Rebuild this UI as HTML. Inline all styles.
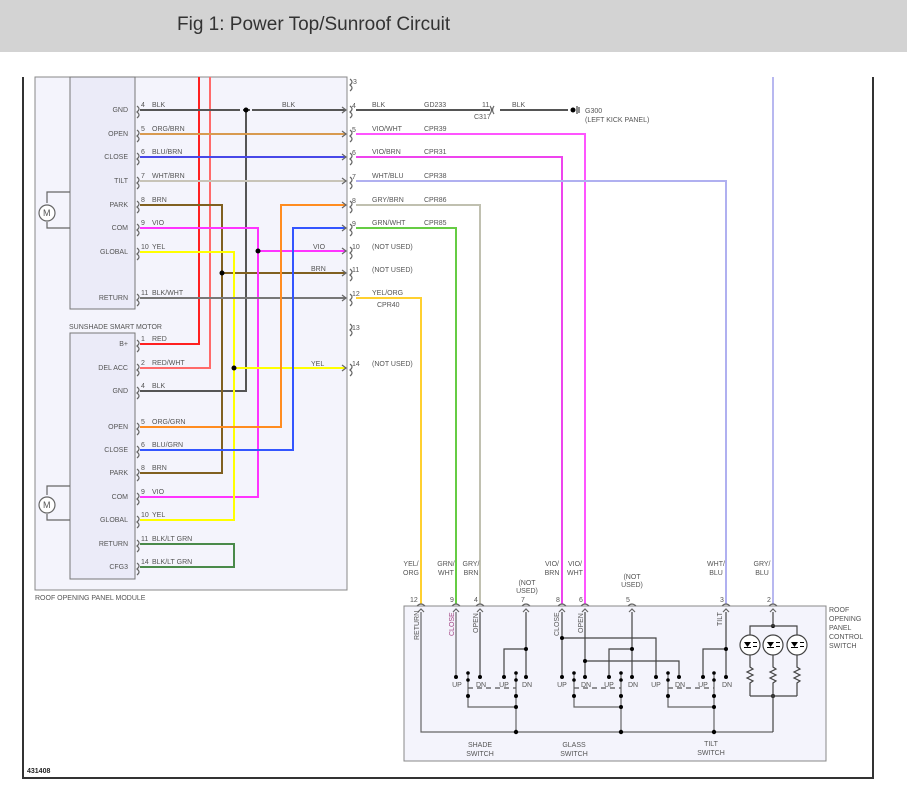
<!DOCTYPE html>
<html><head><meta charset="utf-8"><style>
html,body{margin:0;padding:0;background:#fff;}
svg{display:block;}
text{font-family:"Liberation Sans",sans-serif;font-size:7px;fill:#555;}
.w{fill:none;stroke-width:2;}
.g{fill:none;stroke:#666;stroke-width:1.2;}
.k{fill:none;stroke:#444;stroke-width:1.2;}
</style></head><body>
<svg width="907" height="803" viewBox="0 0 907 803" xmlns="http://www.w3.org/2000/svg">
<rect x="0" y="0" width="907" height="52" fill="#d3d3d3"/>
<text x="177" y="30" style="font-size:19px;fill:#333">Fig 1: Power Top/Sunroof Circuit</text>

<!-- frame -->
<path d="M23,77 V778 H873 V77" fill="none" stroke="#333" stroke-width="2"/>
<text x="27" y="773" style="fill:#222;font-weight:bold">431408</text>

<!-- module -->
<rect x="35" y="77" width="312" height="513" fill="#f4f4fc" stroke="#888" stroke-width="1"/>
<rect x="70" y="77" width="65" height="232" fill="#ebebf8" stroke="#777" stroke-width="1"/>
<rect x="70" y="333" width="65" height="246" fill="#ebebf8" stroke="#777" stroke-width="1"/>
<text x="69" y="329">SUNSHADE SMART MOTOR</text>
<text x="35" y="600">ROOF OPENING PANEL MODULE</text>
<!-- motors -->
<g class="g"><path d="M70,192 H47 V203 M47,222 V228 H70"/><circle cx="47" cy="213" r="8" fill="#fff"/>
<path d="M70,486 H47 V495 M47,514 V520 H70"/><circle cx="47" cy="505" r="8" fill="#fff"/></g>
<text x="43" y="216" style="font-size:9px">M</text><text x="43" y="508" style="font-size:9px">M</text>

<g text-anchor="end">
<text x="128" y="112">GND</text><text x="128" y="136">OPEN</text><text x="128" y="159">CLOSE</text>
<text x="128" y="183">TILT</text><text x="128" y="207">PARK</text><text x="128" y="230">COM</text>
<text x="128" y="254">GLOBAL</text><text x="128" y="300">RETURN</text>
<text x="128" y="346">B+</text><text x="128" y="370">DEL ACC</text><text x="128" y="393">GND</text>
<text x="128" y="429">OPEN</text><text x="128" y="452">CLOSE</text><text x="128" y="475">PARK</text>
<text x="128" y="499">COM</text><text x="128" y="522">GLOBAL</text><text x="128" y="546">RETURN</text><text x="128" y="569">CFG3</text>
</g>

<!-- left wires top -->
<path class="w" stroke="#ff2020" d="M199,77 V344 H140"/>
<path class="w" stroke="#ff6a6a" d="M210,77 V368 H140"/>
<path class="w" stroke="#555" d="M140,110 H346 M246,110 V391 H140"/>
<path class="w" stroke="#d89a50" d="M140,134 H346"/>
<path class="w" stroke="#4848e8" d="M140,157 H346"/>
<path class="w" stroke="#c8c4b8" d="M140,181 H346"/>
<path class="w" stroke="#806020" d="M140,205 H222 V473 H140 M222,273 H346"/>
<path class="w" stroke="#ff33ff" d="M140,228 H258 V497 H140 M258,251 H346"/>
<path class="w" stroke="#ffff00" d="M140,252 H234 V520 H140 M234,368 H346"/>
<path class="w" stroke="#777" d="M140,298 H346"/>
<path class="w" stroke="#ff8c20" d="M140,427 H281 V205 H346"/>
<path class="w" stroke="#3355ff" d="M140,450 H293 V228 H346"/>
<path class="w" stroke="#4a8a4a" d="M140,544 H234 V567 H140"/>
<g fill="#000"><circle cx="246" cy="110" r="2.5"/><circle cx="258" cy="251" r="2.5"/><circle cx="222" cy="273" r="2.5"/><circle cx="234" cy="368" r="2.5"/></g>
<g fill="#f4f4fc"><rect x="240" y="107" width="3" height="6"/><rect x="250" y="107" width="3" height="6"/></g>
<path class="w" stroke="#555" d="M232,110 H240 M252,110 H262"/>

<!-- left pin labels -->
<text x="141" y="107">4</text><text x="152" y="107">BLK</text>
<text x="141" y="131">5</text><text x="152" y="131">ORG/BRN</text>
<text x="141" y="154">6</text><text x="152" y="154">BLU/BRN</text>
<text x="141" y="178">7</text><text x="152" y="178">WHT/BRN</text>
<text x="141" y="202">8</text><text x="152" y="202">BRN</text>
<text x="141" y="225">9</text><text x="152" y="225">VIO</text>
<text x="141" y="249">10</text><text x="152" y="249">YEL</text>
<text x="141" y="295">11</text><text x="152" y="295">BLK/WHT</text>
<text x="141" y="341">1</text><text x="152" y="341">RED</text>
<text x="141" y="365">2</text><text x="152" y="365">RED/WHT</text>
<text x="141" y="388">4</text><text x="152" y="388">BLK</text>
<text x="141" y="424">5</text><text x="152" y="424">ORG/GRN</text>
<text x="141" y="447">6</text><text x="152" y="447">BLU/GRN</text>
<text x="141" y="470">8</text><text x="152" y="470">BRN</text>
<text x="141" y="494">9</text><text x="152" y="494">VIO</text>
<text x="141" y="517">10</text><text x="152" y="517">YEL</text>
<text x="141" y="541">11</text><text x="152" y="541">BLK/LT GRN</text>
<text x="141" y="564">14</text><text x="152" y="564">BLK/LT GRN</text>
<text x="282" y="107">BLK</text><text x="313" y="249">VIO</text><text x="311" y="271">BRN</text><text x="311" y="366">YEL</text>

<!-- left connector marks -->
<g class="g">
<path d="M137,106 q4,3 0,6 q4,3 0,6"/><path d="M137,130 q4,3 0,6 q4,3 0,6"/><path d="M137,153 q4,3 0,6 q4,3 0,6"/><path d="M137,177 q4,3 0,6 q4,3 0,6"/><path d="M137,201 q4,3 0,6 q4,3 0,6"/><path d="M137,224 q4,3 0,6 q4,3 0,6"/><path d="M137,248 q4,3 0,6 q4,3 0,6"/><path d="M137,294 q4,3 0,6 q4,3 0,6"/>
<path d="M137,340 q4,3 0,6 q4,3 0,6"/><path d="M137,364 q4,3 0,6 q4,3 0,6"/><path d="M137,387 q4,3 0,6 q4,3 0,6"/><path d="M137,423 q4,3 0,6 q4,3 0,6"/><path d="M137,446 q4,3 0,6 q4,3 0,6"/><path d="M137,469 q4,3 0,6 q4,3 0,6"/><path d="M137,493 q4,3 0,6 q4,3 0,6"/><path d="M137,516 q4,3 0,6 q4,3 0,6"/><path d="M137,540 q4,3 0,6 q4,3 0,6"/><path d="M137,563 q4,3 0,6 q4,3 0,6"/>
</g>

<!-- right connector marks & arrows -->
<g class="g">
<path d="M350,79 q4,3 0,6 q4,3 0,6"/><path d="M350,106 q4,3 0,6 q4,3 0,6"/><path d="M350,130 q4,3 0,6 q4,3 0,6"/><path d="M350,153 q4,3 0,6 q4,3 0,6"/><path d="M350,177 q4,3 0,6 q4,3 0,6"/><path d="M350,201 q4,3 0,6 q4,3 0,6"/><path d="M350,224 q4,3 0,6 q4,3 0,6"/><path d="M350,247 q4,3 0,6 q4,3 0,6"/><path d="M350,269 q4,3 0,6 q4,3 0,6"/><path d="M350,294 q4,3 0,6 q4,3 0,6"/><path d="M350,324 q4,3 0,6 q4,3 0,6"/><path d="M350,364 q4,3 0,6 q4,3 0,6"/>
<path d="M342,107 l4,3 l-4,3 M342,131 l4,3 l-4,3 M342,154 l4,3 l-4,3 M342,178 l4,3 l-4,3 M342,202 l4,3 l-4,3 M342,225 l4,3 l-4,3 M342,248 l4,3 l-4,3 M342,270 l4,3 l-4,3 M342,295 l4,3 l-4,3 M342,365 l4,3 l-4,3"/>
</g>
<text x="353" y="84">3</text>
<text x="352" y="108">4</text><text x="372" y="107">BLK</text><text x="424" y="107">GD233</text>
<text x="352" y="132">5</text><text x="372" y="131">VIO/WHT</text><text x="424" y="131">CPR39</text>
<text x="352" y="155">6</text><text x="372" y="154">VIO/BRN</text><text x="424" y="154">CPR31</text>
<text x="352" y="179">7</text><text x="372" y="178">WHT/BLU</text><text x="424" y="178">CPR38</text>
<text x="352" y="203">8</text><text x="372" y="202">GRY/BRN</text><text x="424" y="202">CPR86</text>
<text x="352" y="226">9</text><text x="372" y="225">GRN/WHT</text><text x="424" y="225">CPR85</text>
<text x="352" y="249">10</text><text x="372" y="249">(NOT USED)</text>
<text x="352" y="272">11</text><text x="372" y="272">(NOT USED)</text>
<text x="352" y="296">12</text><text x="372" y="295">YEL/ORG</text><text x="377" y="307">CPR40</text>
<text x="352" y="330">13</text>
<text x="352" y="366">14</text><text x="372" y="366">(NOT USED)</text>

<!-- right wires -->
<path class="w" stroke="#555" d="M356,110 H490 M500,110 H568"/>
<path class="g" d="M490,106 q3,4 0,8 M494,106 q-3,4 0,8"/>
<circle cx="573" cy="110" r="2.5" fill="#000"/><path class="k" d="M577,106 V114 M579,107 V113"/>
<text x="482" y="107">11</text><text x="512" y="107">BLK</text><text x="474" y="119">C317</text>
<text x="585" y="113">G300</text><text x="585" y="122">(LEFT KICK PANEL)</text>
<path class="w" stroke="#ff55ff" d="M356,134 H585 V604"/>
<path class="w" stroke="#ee44ee" d="M356,157 H562 V604"/>
<path class="w" stroke="#b0b0f0" d="M356,181 H726 V604"/>
<path class="w" stroke="#c0c0b0" d="M356,205 H480 V604"/>
<path class="w" stroke="#66cc44" d="M356,228 H456 V604"/>
<path class="w" stroke="#ffd030" d="M356,298 H421 V604"/>
<path class="w" stroke="#b8b8f0" d="M773,77 V604"/>

<!-- wire labels above switch -->
<g text-anchor="middle">
<text x="411" y="566">YEL/</text><text x="411" y="575">ORG</text>
<text x="446" y="566">GRN/</text><text x="446" y="575">WHT</text>
<text x="471" y="566">GRY/</text><text x="471" y="575">BRN</text>
<text x="527" y="585">(NOT</text><text x="527" y="593">USED)</text>
<text x="552" y="566">VIO/</text><text x="552" y="575">BRN</text>
<text x="575" y="566">VIO/</text><text x="575" y="575">WHT</text>
<text x="632" y="579">(NOT</text><text x="632" y="587">USED)</text>
<text x="716" y="566">WHT/</text><text x="716" y="575">BLU</text>
<text x="762" y="566">GRY/</text><text x="762" y="575">BLU</text>
</g>
<text x="410" y="602">12</text><text x="450" y="602">9</text><text x="474" y="602">4</text><text x="521" y="602">7</text><text x="556" y="602">8</text><text x="579" y="602">6</text><text x="626" y="602">5</text><text x="720" y="602">3</text><text x="767" y="602">2</text>

<!-- switch box -->
<rect x="404" y="606" width="422" height="155" fill="#f4f4fc" stroke="#888" stroke-width="1"/>
<g class="g">
<path d="M417,606 q4,-4 8,0 M452,606 q4,-4 8,0 M476,606 q4,-4 8,0 M522,606 q4,-4 8,0 M558,606 q4,-4 8,0 M581,606 q4,-4 8,0 M628,606 q4,-4 8,0 M722,606 q4,-4 8,0 M769,606 q4,-4 8,0"/>
<path d="M418,612 l3,-3 l3,3 M453,612 l3,-3 l3,3 M477,612 l3,-3 l3,3 M523,612 l3,-3 l3,3 M559,612 l3,-3 l3,3 M582,612 l3,-3 l3,3 M629,612 l3,-3 l3,3 M723,612 l3,-3 l3,3 M770,612 l3,-3 l3,3"/>
</g>
<text x="829" y="612">ROOF</text><text x="829" y="621">OPENING</text><text x="829" y="630">PANEL</text><text x="829" y="639">CONTROL</text><text x="829" y="648">SWITCH</text>

<!-- rotated labels -->
<g>
<text transform="translate(419,640) rotate(-90)">RETURN</text>
<text transform="translate(454,636) rotate(-90)" style="fill:#a04080">CLOSE</text>
<text transform="translate(478,633) rotate(-90)">OPEN</text>
<text transform="translate(559,636) rotate(-90)">CLOSE</text>
<text transform="translate(583,633) rotate(-90)">OPEN</text>
<text transform="translate(722,626) rotate(-90)">TILT</text>
</g>

<!-- switch internals -->
<g class="g" stroke="#888">
<path d="M421,612 V732 H773"/>
<path d="M456,612 V677"/>
</g>
<g class="k">
<path d="M480,612 V677 M526,612 V677 M526,649 H504 V677"/>
<path d="M562,612 V677 M562,638 H656 V677 M585,612 V677 M585,661 H679 V677 M632,612 V677 M632,649 H609 V677"/>
<path d="M726,612 V677 M726,649 H703 V677"/>
</g>
<g class="g" stroke="#777">
<path d="M468,672 V707 H516 V672 M516,707 V732"/>
<path d="M574,672 V707 H621 V672 M621,707 V732"/>
<path d="M668,672 V707 H714 V672 M714,707 V732"/>
</g>
<path d="M468,688 H516 M574,688 H621 M668,688 H714" stroke="#555" stroke-width="1.2" stroke-dasharray="5,4" fill="none"/>
<g fill="#000">
<circle cx="456" cy="677" r="2"/><circle cx="480" cy="677" r="2"/><circle cx="504" cy="677" r="2"/><circle cx="526" cy="677" r="2"/><circle cx="526" cy="649" r="2"/>
<circle cx="562" cy="677" r="2"/><circle cx="585" cy="677" r="2"/><circle cx="609" cy="677" r="2"/><circle cx="632" cy="677" r="2"/><circle cx="656" cy="677" r="2"/><circle cx="679" cy="677" r="2"/>
<circle cx="562" cy="638" r="2"/><circle cx="585" cy="661" r="2"/><circle cx="632" cy="649" r="2"/>
<circle cx="703" cy="677" r="2"/><circle cx="726" cy="677" r="2"/><circle cx="726" cy="649" r="2"/>
<circle cx="468" cy="673" r="1.8"/><circle cx="468" cy="680" r="1.8"/><circle cx="516" cy="673" r="1.8"/><circle cx="516" cy="680" r="1.8"/>
<circle cx="574" cy="673" r="1.8"/><circle cx="574" cy="680" r="1.8"/><circle cx="621" cy="673" r="1.8"/><circle cx="621" cy="680" r="1.8"/>
<circle cx="668" cy="673" r="1.8"/><circle cx="668" cy="680" r="1.8"/><circle cx="714" cy="673" r="1.8"/><circle cx="714" cy="680" r="1.8"/>
<circle cx="468" cy="696" r="2"/><circle cx="516" cy="696" r="2"/><circle cx="516" cy="707" r="2"/>
<circle cx="574" cy="696" r="2"/><circle cx="621" cy="696" r="2"/><circle cx="621" cy="707" r="2"/>
<circle cx="668" cy="696" r="2"/><circle cx="714" cy="696" r="2"/><circle cx="714" cy="707" r="2"/>
<circle cx="516" cy="732" r="2.2"/><circle cx="621" cy="732" r="2.2"/><circle cx="714" cy="732" r="2.2"/>
<circle cx="773" cy="626" r="2"/><circle cx="773" cy="696" r="2"/>
</g>
<g style="font-size:8px" text-anchor="middle">
<text x="457" y="687">UP</text><text x="481" y="687">DN</text><text x="504" y="687">UP</text><text x="527" y="687">DN</text>
<text x="562" y="687">UP</text><text x="586" y="687">DN</text><text x="609" y="687">UP</text><text x="633" y="687">DN</text><text x="656" y="687">UP</text><text x="680" y="687">DN</text>
<text x="703" y="687">UP</text><text x="727" y="687">DN</text>
</g>
<g text-anchor="middle">
<text x="480" y="747">SHADE</text><text x="480" y="756">SWITCH</text>
<text x="574" y="747">GLASS</text><text x="574" y="756">SWITCH</text>
<text x="711" y="746">TILT</text><text x="711" y="755">SWITCH</text>
</g>

<!-- LEDs -->
<g class="k">
<path d="M773,612 V626 M750,645 V626 H797 V645"/>
<circle cx="750" cy="645" r="10" fill="#fff"/><circle cx="773" cy="645" r="10" fill="#fff"/><circle cx="797" cy="645" r="10" fill="#fff"/>
<path d="M750,655 V667 l3,2 l-6,3 l6,3 l-6,3 l6,3 l-3,2 V696 M773,655 V667 l3,2 l-6,3 l6,3 l-6,3 l6,3 l-3,2 V696 M797,655 V667 l3,2 l-6,3 l6,3 l-6,3 l6,3 l-3,2 V696 M750,696 H797 M773,696 V732"/>
</g>
<g fill="#000">
<path d="M744,642 h7 l-3.5,5z M767,642 h7 l-3.5,5z M791,642 h7 l-3.5,5z"/>
<rect x="744" y="647" width="7" height="1"/><rect x="767" y="647" width="7" height="1"/><rect x="791" y="647" width="7" height="1"/>
<rect x="753" y="642" width="4" height="1"/><rect x="753" y="646" width="4" height="1"/>
<rect x="776" y="642" width="4" height="1"/><rect x="776" y="646" width="4" height="1"/>
<rect x="800" y="642" width="4" height="1"/><rect x="800" y="646" width="4" height="1"/>
</g>
</svg>
</body></html>
